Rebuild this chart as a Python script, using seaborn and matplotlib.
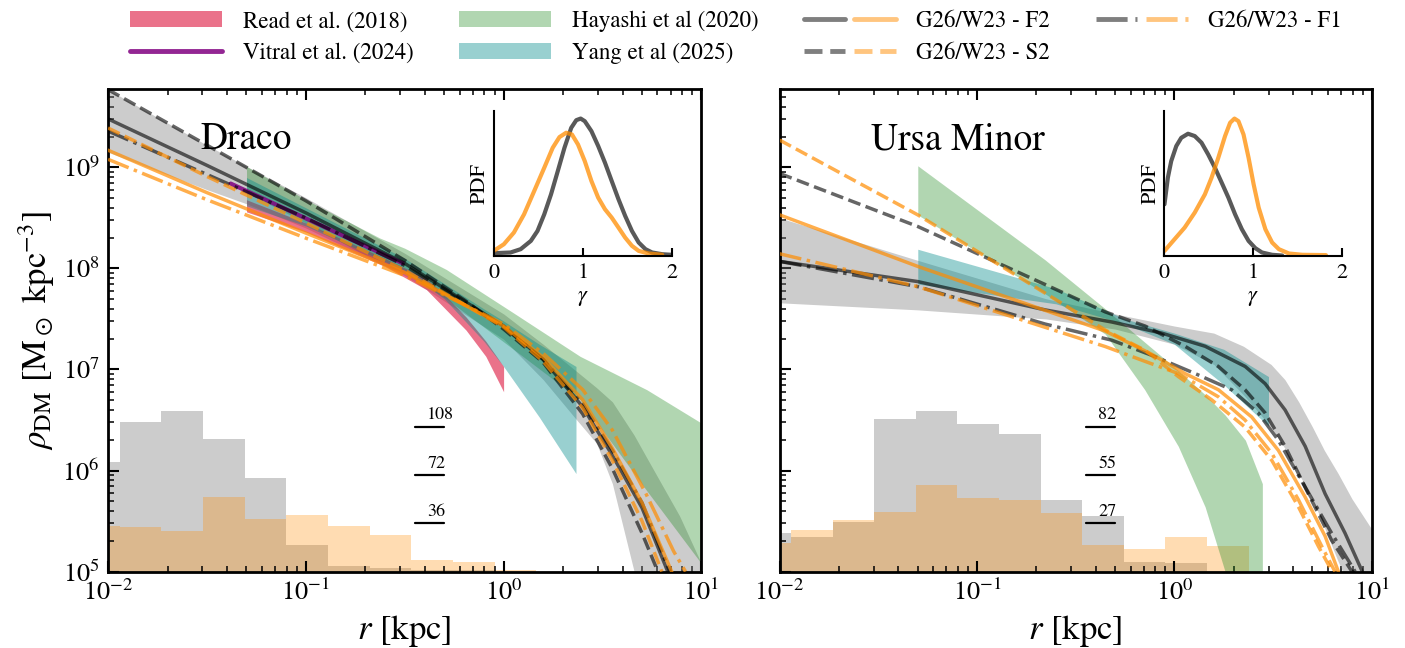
import numpy as np
import matplotlib
matplotlib.use("Agg")
import matplotlib.pyplot as plt
import seaborn as sns
from matplotlib.lines import Line2D
from matplotlib.patches import Patch
from matplotlib.legend_handler import HandlerTuple
from matplotlib.transforms import blended_transform_factory

sns.set_style("ticks")
plt.rcParams['font.family'] = ['STIXGeneral', 'DejaVu Serif']
plt.rcParams['mathtext.fontset'] = 'stix'
for k in ['axes.edgecolor', 'text.color', 'xtick.color', 'ytick.color', 'axes.labelcolor']:
    plt.rcParams[k] = 'black'

# ---------------- data (log10 r [kpc], log10 rho [Msun/kpc^3]) ----------------
# ---- Draco ----
dra_gray_band_x = [-2.0, -1.5, -1.3, -1.0, -0.5, 0.0, 0.2, 0.37, 0.47, 0.55, 0.66, 0.72, 0.89, 1.0]
dra_gray_band_hi = [9.77, 9.22, 9.01, 8.70, 8.15, 7.55, 7.25, 6.98, 6.82, 6.68, 6.35, 6.14, 5.55, 5.08]
dra_gray_band_lo = [9.15, 8.78, 8.64, 8.40, 7.93, 7.30, 6.90, 6.50, 6.27, 5.87, 5.00, 4.60, 4.00, 3.80]

dra_hay_x = [-1.3, -1.0, -0.625, -0.5, -0.29, 0.05, 0.387, 0.724, 1.0]
dra_hay_hi = [9.01, 8.68, 8.30, 8.20, 7.99, 7.56, 7.13, 6.80, 6.47]
dra_hay_lo = [8.75, 8.45, 8.05, 7.95, 7.70, 7.20, 6.70, 5.80, 5.08]

dra_yang_x = [-1.3, -1.0, -0.5, -0.3, -0.1, 0.0, 0.18, 0.366]
dra_yang_hi = [8.90, 8.60, 8.10, 7.85, 7.60, 7.48, 7.25, 7.03]
dra_yang_lo = [8.62, 8.42, 7.98, 7.70, 7.28, 7.03, 6.53, 5.97]

dra_read_x = [-1.3, -1.0, -0.6, -0.39, -0.29, -0.19, -0.09, 0.0]
dra_read_hi = [8.68, 8.45, 8.10, 7.90, 7.72, 7.52, 7.28, 7.03]
dra_read_lo = [8.56, 8.36, 8.02, 7.79, 7.59, 7.39, 7.13, 6.78]

dra_vitral_x = [-1.38, -0.95, -0.51]
dra_vitral_y = [8.84, 8.45, 8.05]

dra_gF2_x = [-2, -1.5, -1, -0.5, 0, 0.2, 0.4, 0.55, 0.7, 0.83]
dra_gF2_y = [9.48, 9.02, 8.55, 8.05, 7.43, 7.10, 6.63, 6.15, 5.63, 5.00]
dra_gS2_x = [-2, -1.5, -1, -0.5, -0.2, 0, 0.2, 0.4, 0.55, 0.7, 0.78]
dra_gS2_y = [9.77, 9.22, 8.67, 8.08, 7.69, 7.40, 7.07, 6.56, 6.02, 5.38, 5.00]
dra_gF1_x = [-2, -1.5, -1, -0.5, 0, 0.2, 0.4, 0.55, 0.7, 0.84]
dra_gF1_y = [9.36, 8.93, 8.50, 8.03, 7.42, 7.10, 6.66, 6.20, 5.68, 5.00]
dra_oF2_x = [-2, -1.5, -1, -0.5, 0, 0.2, 0.4, 0.55, 0.7, 0.85]
dra_oF2_y = [9.17, 8.75, 8.35, 7.96, 7.43, 7.12, 6.70, 6.22, 5.68, 5.00]
dra_oS2_x = [-2, -1.5, -1, -0.5, 0, 0.2, 0.4, 0.55, 0.7, 0.8]
dra_oS2_y = [9.39, 8.91, 8.45, 7.98, 7.42, 7.08, 6.62, 6.10, 5.50, 5.00]
dra_oF1_x = [-2, -1.5, -1, -0.5, 0, 0.2, 0.4, 0.55, 0.72, 0.86, 0.92]
dra_oF1_y = [9.08, 8.68, 8.30, 7.93, 7.45, 7.16, 6.80, 6.40, 5.77, 5.20, 5.00]

# ---- Ursa Minor ----
umi_gray_band_x = [-2, -1.3, -0.65, -0.3, 0, 0.2, 0.35, 0.49, 0.56, 0.63, 0.7, 0.76, 0.83, 0.9, 1.0]
umi_gray_band_hi = [8.50, 8.08, 7.70, 7.55, 7.43, 7.36, 7.23, 7.05, 6.90, 6.68, 6.43, 6.20, 5.97, 5.72, 5.42]
umi_gray_band_lo = [7.66, 7.59, 7.50, 7.40, 7.25, 7.05, 6.75, 6.43, 6.22, 5.97, 5.72, 5.44, 5.10, 4.80, 4.50]

umi_hay_x = [-1.3, -0.655, -0.35, -0.15, 0.02, 0.156, 0.257, 0.36, 0.446]
umi_hay_hi = [9.016, 8.085, 7.60, 7.27, 6.99, 6.75, 6.55, 6.30, 5.87]
umi_hay_lo = [8.53, 7.75, 7.35, 6.80, 6.24, 5.64, 5.00, 4.50, 4.30]

umi_yang_x = [-1.3, -0.6, -0.25, 0.0, 0.25, 0.477]
umi_yang_hi = [8.19, 7.80, 7.50, 7.36, 7.20, 6.93]
umi_yang_lo = [7.845, 7.65, 7.45, 7.25, 6.85, 6.44]

umi_gF2_x = [-2, -1.3, -0.655, -0.317, -0.064, 0.156, 0.359, 0.46, 0.561, 0.663, 0.764, 0.865, 0.95]
umi_gF2_y = [8.07, 7.87, 7.59, 7.47, 7.36, 7.23, 7.03, 6.86, 6.60, 6.24, 5.77, 5.38, 5.01]
umi_gS2_x = [-2, -1.3, -0.35, -0.148, 0.054, 0.223, 0.358, 0.46, 0.561, 0.679, 0.797, 0.9]
umi_gS2_y = [8.94, 8.415, 7.57, 7.43, 7.23, 7.03, 6.80, 6.57, 6.24, 5.77, 5.31, 5.00]
umi_gF1_x = [-2, -1.3, -0.655, -0.317, -0.114, 0.105, 0.29, 0.425, 0.527, 0.662, 0.797, 0.916]
umi_gF1_y = [8.07, 7.82, 7.45, 7.29, 7.14, 6.96, 6.80, 6.57, 6.30, 5.84, 5.38, 5.00]
umi_oF2_x = [-2, -1.3, -0.35, -0.114, 0.054, 0.223, 0.392, 0.527, 0.662, 0.764, 0.831]
umi_oF2_y = [8.53, 8.02, 7.38, 7.15, 6.96, 6.80, 6.53, 6.20, 5.74, 5.35, 5.00]
umi_oS2_x = [-2, -1.3, -0.35, -0.148, 0.02, 0.189, 0.358, 0.494, 0.629, 0.73, 0.8]
umi_oS2_y = [9.27, 8.53, 7.39, 7.19, 6.93, 6.70, 6.43, 6.10, 5.64, 5.25, 5.00]
umi_oF1_x = [-2, -1.3, -0.35, -0.148, 0.02, 0.223, 0.358, 0.494, 0.629, 0.747, 0.814]
umi_oF1_y = [8.145, 7.82, 7.227, 7.08, 6.96, 6.73, 6.50, 6.17, 5.71, 5.25, 5.00]

# ---- histograms of stellar radii (log10 bin edges, counts) ----
hist_edges = [-2.153, -1.942, -1.731, -1.521, -1.310, -1.099, -0.888, -0.678, -0.467, -0.256, -0.045, 0.165, 0.376]
dra_hist_gray = [82, 112, 120, 99, 70, 20, 4, 3, 1, 1, 0, 0]
dra_hist_orng = [34, 33, 30, 56, 39, 42, 34, 27, 9, 7, 1, 0]
umi_hist_gray = [21.6, 19.7, 28, 86.6, 91, 83.8, 78, 40.8, 31.6, 5.6, 5, 0]
umi_hist_orng = [16, 23.5, 29, 33.8, 48.8, 41.8, 40.5, 33, 15, 12.6, 19.7, 14.6]

# ---- inset PDFs of gamma (normalised to inset height) ----
dra_pdf_gray_x = [0, 0.189, 0.303, 0.417, 0.492, 0.568, 0.644, 0.72, 0.795, 0.871, 0.928, 0.977,
                  1.023, 1.098, 1.174, 1.25, 1.326, 1.402, 1.477, 1.553, 1.629, 1.705, 1.78, 1.894, 2.0]
dra_pdf_gray_y = [0.018, 0.023, 0.046, 0.103, 0.172, 0.287, 0.425, 0.586, 0.747, 0.885, 0.938, 0.949,
                  0.931, 0.862, 0.759, 0.644, 0.517, 0.391, 0.276, 0.172, 0.092, 0.046, 0.023, 0.011, 0.007]
dra_pdf_orng_x = [0, 0.114, 0.227, 0.341, 0.455, 0.568, 0.663, 0.739, 0.814, 0.879, 0.947, 1.023,
                  1.098, 1.174, 1.25, 1.326, 1.402, 1.477, 1.553, 1.629, 1.742, 1.894]
dra_pdf_orng_y = [0.034, 0.08, 0.161, 0.287, 0.448, 0.609, 0.747, 0.821, 0.851, 0.839, 0.77, 0.655,
                  0.517, 0.402, 0.322, 0.264, 0.195, 0.126, 0.069, 0.034, 0.016, 0.007]
umi_pdf_gray_x = [0, 0.038, 0.076, 0.133, 0.189, 0.265, 0.341, 0.417, 0.492, 0.568, 0.644, 0.72,
                  0.795, 0.871, 0.947, 1.023, 1.098, 1.212, 1.326]
umi_pdf_gray_y = [0.356, 0.54, 0.655, 0.759, 0.816, 0.844, 0.828, 0.782, 0.701, 0.609, 0.506, 0.402,
                  0.287, 0.184, 0.103, 0.053, 0.023, 0.007, 0.002]
umi_pdf_orng_x = [0, 0.114, 0.227, 0.341, 0.455, 0.53, 0.606, 0.682, 0.739, 0.788, 0.833, 0.89,
                  0.947, 1.004, 1.061, 1.136, 1.212, 1.288, 1.402, 1.553, 1.818]
umi_pdf_orng_y = [0.034, 0.115, 0.195, 0.299, 0.425, 0.54, 0.678, 0.828, 0.92, 0.949, 0.931, 0.839,
                  0.678, 0.494, 0.333, 0.184, 0.092, 0.046, 0.016, 0.007, 0.005]

galaxy_names = ["Draco", "Ursa Minor"]
legend_labels = ["Read et al. (2018)", "Vitral et al. (2024)", "Hayashi et al (2020)",
                 "Yang et al (2025)", "G26/W23 - F2", "G26/W23 - S2", "G26/W23 - F1"]

# ---------------- styles ----------------
C_G, A_G = 'black', 0.6
C_O, A_O = 'darkorange', 0.7
LW = 2.5


def p10(a):
    return 10 ** np.asarray(a, dtype=float)


def band(ax, x, lo, hi, color, alpha, z):
    ax.fill_between(p10(x), p10(lo), p10(hi), color=color, alpha=alpha, lw=0, zorder=z)


def line(ax, x, y, color, alpha, ls, lw=LW, z=5):
    sns.lineplot(x=p10(x), y=p10(y), ax=ax, color=color, alpha=alpha, linestyle=ls,
                 lw=lw, legend=False, sort=False, zorder=z)


fig = plt.figure(figsize=(14.05, 6.48), dpi=100)
ax1 = fig.add_axes([0.0769, 0.1179, 0.4223, 0.744])
ax2 = fig.add_axes([0.5549, 0.1179, 0.4214, 0.744])

panels = [
    dict(ax=ax1, name=galaxy_names[0],
         gband=(dra_gray_band_x, dra_gray_band_lo, dra_gray_band_hi),
         hay=(dra_hay_x, dra_hay_lo, dra_hay_hi),
         yang=(dra_yang_x, dra_yang_lo, dra_yang_hi),
         read=(dra_read_x, dra_read_lo, dra_read_hi),
         vitral=(dra_vitral_x, dra_vitral_y),
         lines=[(dra_gF2_x, dra_gF2_y, 'g', '-'), (dra_gS2_x, dra_gS2_y, 'g', '--'),
                (dra_gF1_x, dra_gF1_y, 'g', '-.'), (dra_oF2_x, dra_oF2_y, 'o', '-'),
                (dra_oS2_x, dra_oS2_y, 'o', '--'), (dra_oF1_x, dra_oF1_y, 'o', '-.')],
         hg=dra_hist_gray, ho=dra_hist_orng,
         pdf=[(dra_pdf_gray_x, dra_pdf_gray_y, 'g'), (dra_pdf_orng_x, dra_pdf_orng_y, 'o')]),
    dict(ax=ax2, name=galaxy_names[1],
         gband=(umi_gray_band_x, umi_gray_band_lo, umi_gray_band_hi),
         hay=(umi_hay_x, umi_hay_lo, umi_hay_hi),
         yang=(umi_yang_x, umi_yang_lo, umi_yang_hi),
         read=None, vitral=None,
         lines=[(umi_gF2_x, umi_gF2_y, 'g', '-'), (umi_gS2_x, umi_gS2_y, 'g', '--'),
                (umi_gF1_x, umi_gF1_y, 'g', '-.'), (umi_oF2_x, umi_oF2_y, 'o', '-'),
                (umi_oS2_x, umi_oS2_y, 'o', '--'), (umi_oF1_x, umi_oF1_y, 'o', '-.')],
         hg=umi_hist_gray, ho=umi_hist_orng,
         pdf=[(umi_pdf_gray_x, umi_pdf_gray_y, 'g'), (umi_pdf_orng_x, umi_pdf_orng_y, 'o')]),
]

for i, P in enumerate(panels):
    ax = P['ax']
    ax.set_xscale('log')
    ax.set_yscale('log')

    # histogram twin axis (behind)
    hax = ax.twinx()
    edges = p10(hist_edges)
    hg = np.asarray(P['hg'], float)
    ho = np.asarray(P['ho'], float)
    hax.stairs(hg, edges, fill=True, color='gray', alpha=0.4, lw=0)
    hax.stairs(ho, edges, fill=True, color='darkorange', alpha=0.3, lw=0)
    hmax = hg.max()
    hax.set_ylim(0, 3 * hmax)
    hax.set_yticks([])
    for s in hax.spines.values():
        s.set_visible(False)
    trans = blended_transform_factory(hax.transAxes, hax.transData)
    for f in (0.3, 0.6, 0.9):
        v = f * hmax
        hax.plot([0.517, 0.567], [v, v], transform=trans, color='k', lw=1.6)
        hax.annotate(f"{int(round(v))}", xy=(0.538, v), xycoords=trans, xytext=(0, 2.5),
                     textcoords='offset points', ha='left', va='bottom', fontsize=13)
    ax.set_zorder(hax.get_zorder() + 1)
    ax.patch.set_visible(False)

    # bands
    band(ax, *P['gband'], 'gray', 0.4, 1)
    band(ax, *P['hay'], 'forestgreen', 0.35, 2)
    if P['read'] is not None:
        band(ax, *P['read'], 'crimson', 0.6, 2.5)
    band(ax, *P['yang'], 'darkcyan', 0.4, 3)
    if P['vitral'] is not None:
        line(ax, *P['vitral'], 'purple', 0.85, '-', lw=3, z=4)

    for x, y, c, ls in P['lines']:
        if c == 'g':
            line(ax, x, y, C_G, A_G, ls)
        else:
            line(ax, x, y, C_O, A_O, ls)

    ax.set_xlim(1e-2, 1e1)
    ax.set_ylim(1e5, 5.9e9)
    ax.tick_params(which='both', direction='in', top=True, right=False, labelsize=19)
    ax.tick_params(which='major', length=8, width=1.5, pad=6)
    ax.tick_params(which='minor', length=4, width=1.1)
    for s in ax.spines.values():
        s.set_linewidth(2)
    ax.set_xlabel(r'$r$ [kpc]', fontsize=25, labelpad=5)
    if i == 0:
        ax.set_ylabel(r'$\rho_{\rm DM}$ [M$_\odot$ kpc$^{-3}$]', fontsize=25, labelpad=4)
    else:
        ax.set_ylabel('')
        ax.tick_params(labelleft=False)
    ax.text(0.155, 0.876, P['name'], transform=ax.transAxes, fontsize=27, ha='left', va='baseline')

    # inset PDF of gamma
    iax = ax.inset_axes([0.65, 0.655, 0.30, 0.30])
    for gx, gy, c in P['pdf']:
        if c == 'g':
            sns.lineplot(x=gx, y=gy, ax=iax, color=C_G, alpha=0.65, lw=3, legend=False)
        else:
            sns.lineplot(x=gx, y=gy, ax=iax, color=C_O, alpha=0.75, lw=3, legend=False)
    iax.set_xlim(0, 2)
    iax.set_ylim(0, 1)
    iax.set_xticks([0, 1, 2])
    iax.set_yticks([])
    iax.spines['top'].set_visible(False)
    iax.spines['right'].set_visible(False)
    iax.spines['left'].set_linewidth(1.5)
    iax.spines['bottom'].set_linewidth(1.5)
    iax.tick_params(axis='x', direction='in', length=6, width=1.5, labelsize=16, pad=5)
    iax.set_xlabel(r'$\gamma$', fontsize=16)
    iax.set_ylabel('PDF', fontsize=16, labelpad=3)
    iax.patch.set_alpha(0)

# legend
h_read = Patch(facecolor='crimson', alpha=0.6, edgecolor='none')
h_vit = Line2D([], [], color='purple', alpha=0.85, lw=3.5)
h_hay = Patch(facecolor='forestgreen', alpha=0.35, edgecolor='none')
h_yang = Patch(facecolor='darkcyan', alpha=0.4, edgecolor='none')


def pair(ls):
    return (Line2D([], [], color=C_G, alpha=0.5, lw=3.5, ls=ls),
            Line2D([], [], color=C_O, alpha=0.5, lw=3.5, ls=ls))


handles = [h_read, h_vit, h_hay, h_yang, pair('-'), pair('--'), pair('-.')]
fig.legend(handles, legend_labels, ncol=4, loc='center', bbox_to_anchor=(0.524, 0.942),
           frameon=False, fontsize=16.5, handlelength=4, handletextpad=0.9,
           columnspacing=2.0, labelspacing=0.45,
           handler_map={tuple: HandlerTuple(ndivide=None)})

fig.savefig('out.png', dpi=100)
